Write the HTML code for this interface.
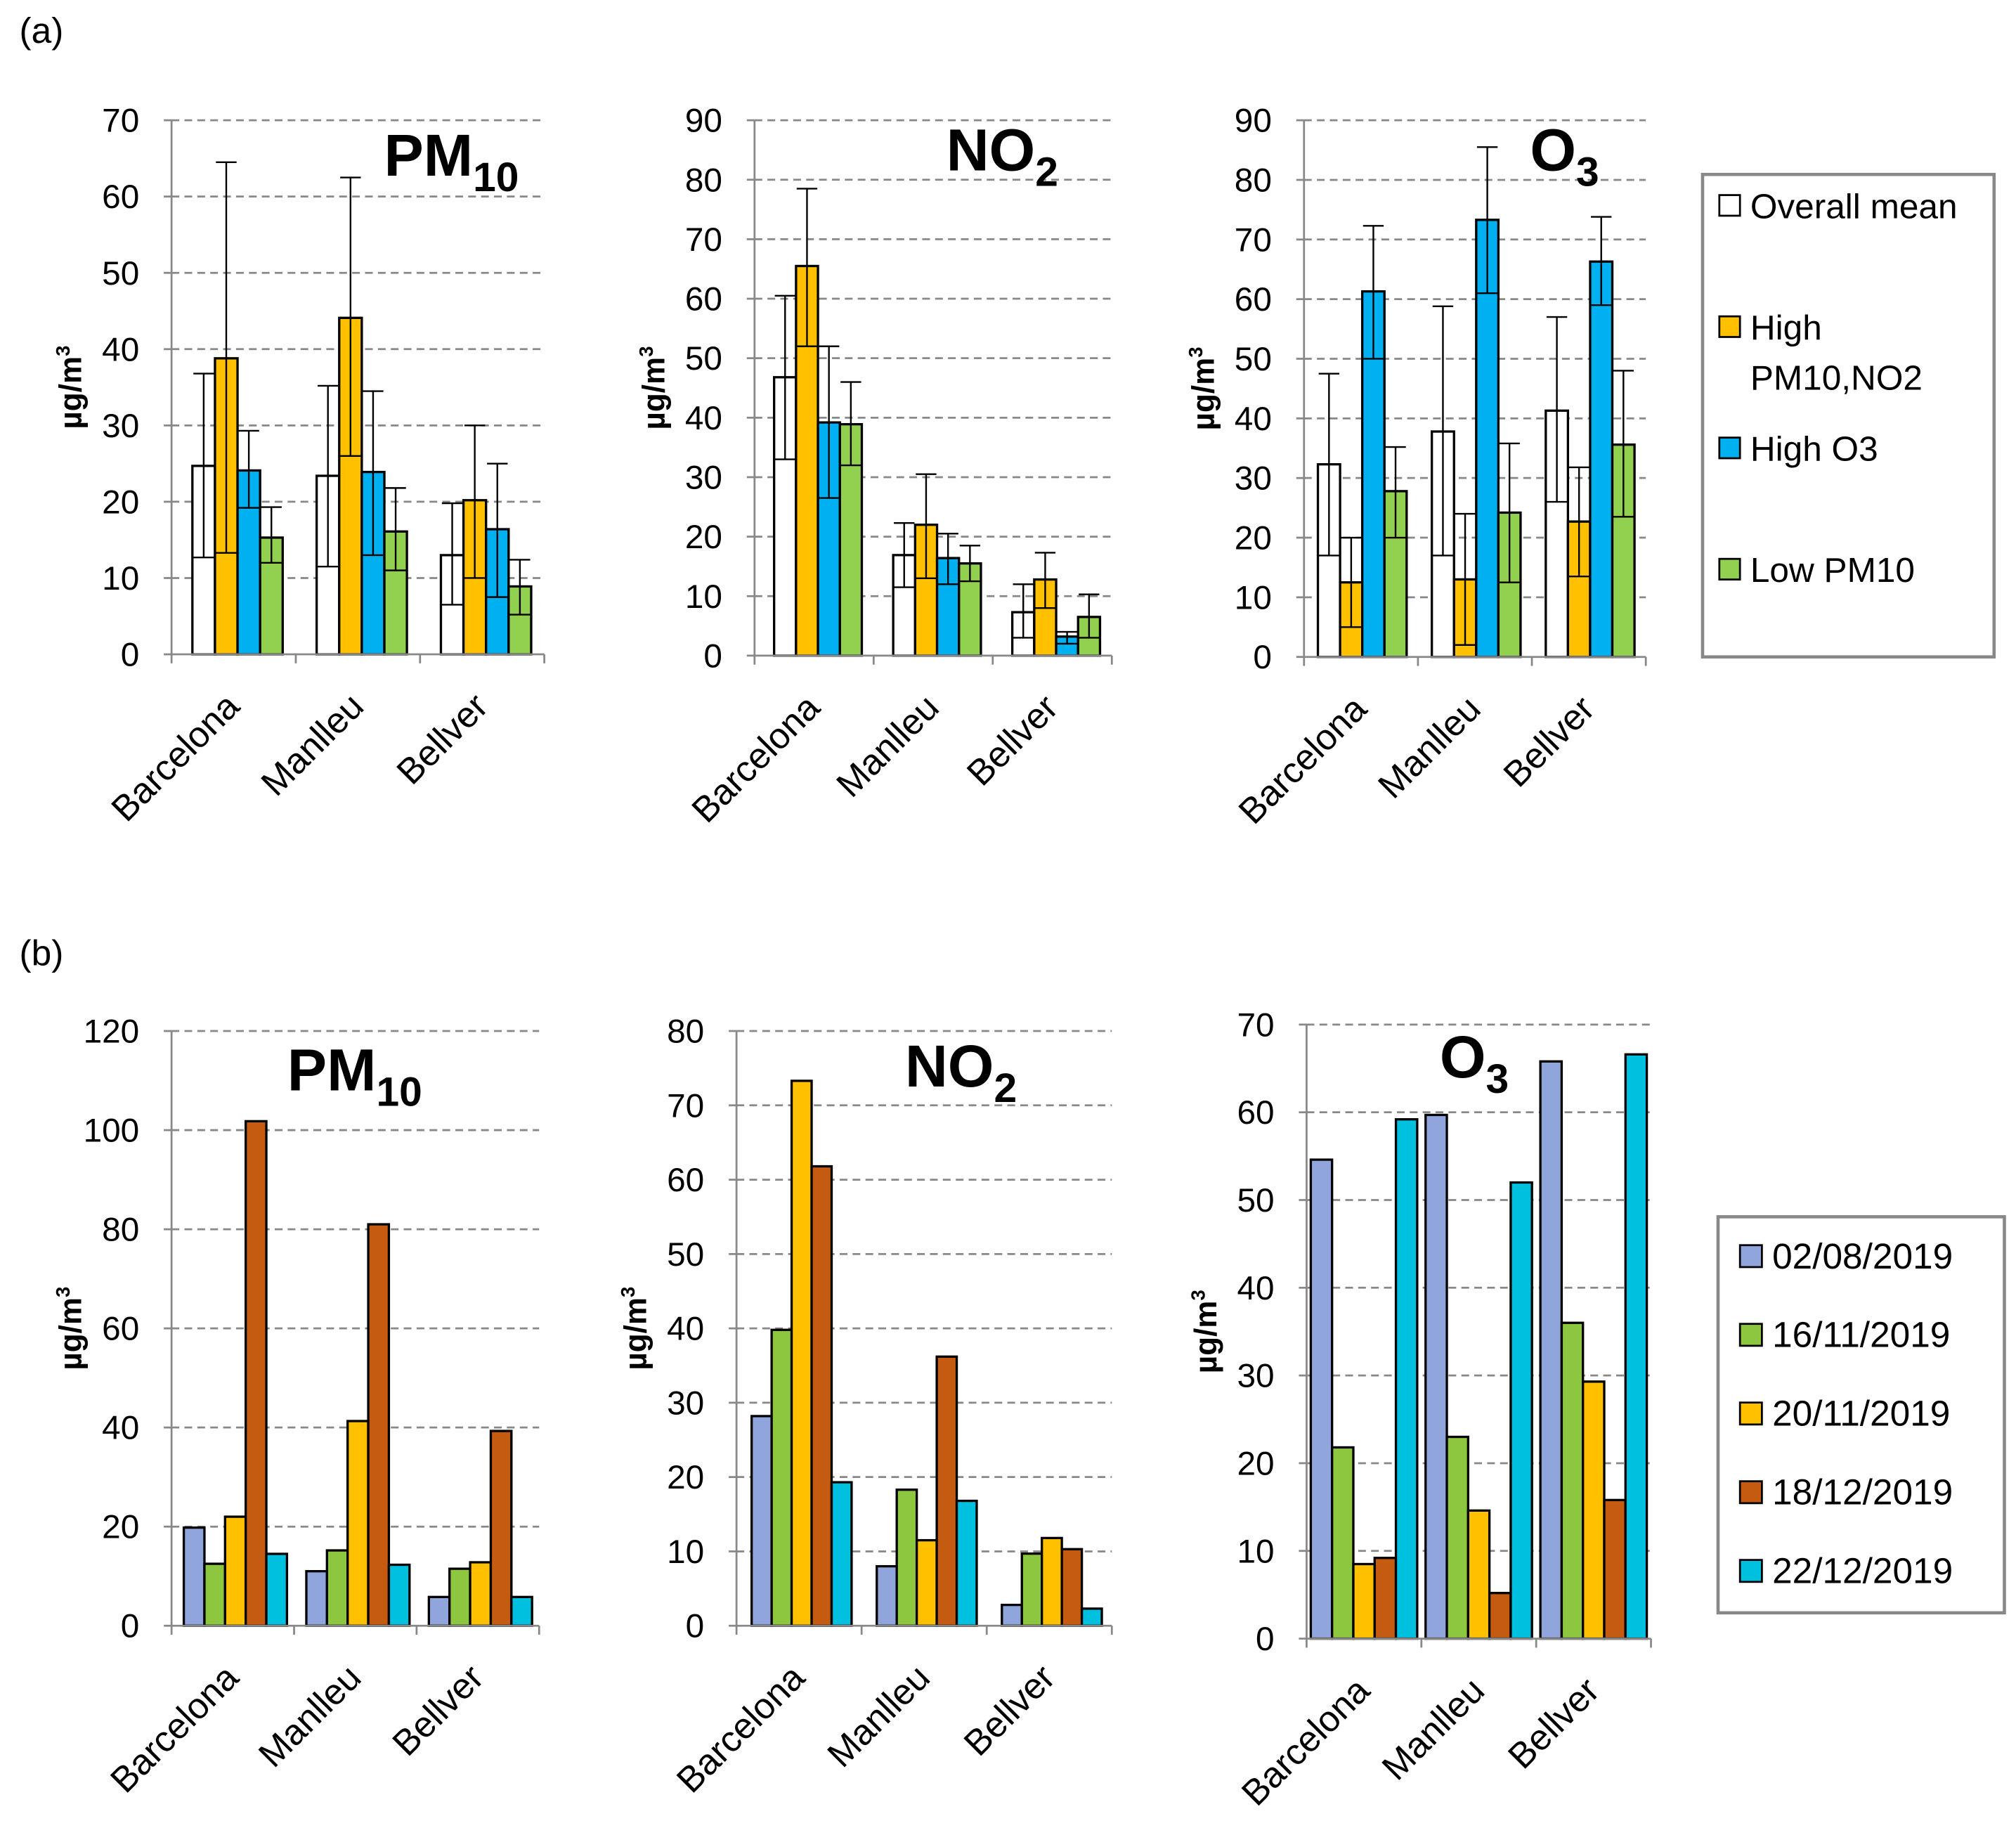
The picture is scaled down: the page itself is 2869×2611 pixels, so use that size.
<!DOCTYPE html>
<html><head><meta charset="utf-8"><style>
html,body{margin:0;padding:0;background:#fff}
svg{display:block}
text{font-family:"Liberation Sans","DejaVu Sans",sans-serif}
</style></head><body>
<svg id="c" width="2869" height="2611" viewBox="0 0 1563 1422" xmlns="http://www.w3.org/2000/svg">
<text x="15" y="33" font-size="28" font-family="Liberation Serif">(a)</text>
<text x="15" y="748" font-size="28" font-family="Liberation Serif">(b)</text>
<g id="charts"></g>
<g>
<rect x="1320" y="135" width="226" height="374" fill="#fff" stroke="#888" stroke-width="2.5"/>
<rect x="1333" y="151" width="16" height="16" fill="#fff" stroke="#000" stroke-width="1.5"/>
<text x="1357" y="169" font-size="27">Overall mean</text>
<rect x="1333" y="245" width="16" height="16" fill="#FFC000" stroke="#000" stroke-width="1.5"/>
<text x="1357" y="263" font-size="27">High</text>
<text x="1357" y="302" font-size="27">PM10,NO2</text>
<rect x="1333" y="339" width="16" height="16" fill="#00B0F0" stroke="#000" stroke-width="1.5"/>
<text x="1357" y="357" font-size="27">High O3</text>
<rect x="1333" y="433" width="16" height="16" fill="#92D050" stroke="#000" stroke-width="1.5"/>
<text x="1357" y="451" font-size="27">Low PM10</text>
</g>
<g>
<rect x="1332" y="943" width="222" height="307" fill="#fff" stroke="#888" stroke-width="2.5"/>
<g id="legb"></g>
</g>
</svg>
<script>
const NS="http://www.w3.org/2000/svg";
const cats=["Barcelona","Manlleu","Bellver"];
const colA=["#fff","#FFC000","#00B0F0","#92D050"];
const colB=["#8FA5DB","#8DC63F","#FFC000","#C55A11","#00C0E0"];
const datesB=["02/08/2019","16/11/2019","20/11/2019","18/12/2019","22/12/2019"];
// (a) values [category][series]
const pmA=[[24.7,38.8,24.1,15.3],[23.4,44.1,23.9,16.1],[13,20.2,16.4,8.9]];
const pmALo=[[12.7,13.3,19.2,12],[11.5,26,13,11],[6.5,10,7.5,5.2]];
const pmAHi=[[36.8,64.5,29.3,19.3],[35.2,62.5,34.5,21.8],[19.8,30,25,12.4]];
const noA=[[46.8,65.5,39.2,38.9],[16.9,22,16.4,15.5],[7.3,12.8,3.2,6.5]];
const noALo=[[33,52,26.5,32],[11.5,13,12,12.5],[3,8,2,3]];
const noAHi=[[60.5,78.5,52,46],[22.3,30.5,20.5,18.5],[12,17.3,4,10.3]];
const o3A=[[32.3,12.5,61.3,27.8],[37.8,13,73.3,24.2],[41.3,22.7,66.3,35.6]];
const o3ALo=[[17,5,50,20],[17,2,61,12.5],[26,13.5,59,23.5]];
const o3AHi=[[47.5,20,72.3,35.2],[58.8,24,85.5,35.8],[57,31.8,73.8,48]];
// (b)
const pmB=[[19.8,12.5,22,101.8,14.5],[11,15.2,41.3,81,12.3],[5.8,11.5,12.8,39.3,5.8]];
const noB=[[28.2,39.8,73.3,61.8,19.3],[8,18.3,11.5,36.2,16.8],[2.8,9.7,11.8,10.3,2.3]];
const o3B=[[54.6,21.8,8.5,9.2,59.2],[59.7,23,14.6,5.2,52],[65.8,36,29.3,15.8,66.6]];

const root=document.getElementById('charts');
function el(t,a,p){const e=document.createElementNS(NS,t);for(const k in a)e.setAttribute(k,a[k]);(p||root).appendChild(e);return e;}

function chart(o){
  const g=el('g',{});
  
  
  const sy=v=>o.y0-(v/o.max)*(o.y0-o.yTop);
  for(let v=0;v<=o.max;v+=o.step){
    const y=sy(v);
    if(v>0){const l=el('line',{x1:o.x0,x2:o.x1,y1:y,y2:y,stroke:'#888','stroke-width':1.5,'stroke-dasharray':'6,4'},g);
      }
    el('line',{x1:o.x0-6,x2:o.x0,y1:y,y2:y,stroke:'#888','stroke-width':1.5},g);
    const t=el('text',{x:o.x0-25,y:y+9,'font-size':26,'text-anchor':'end'},g);
    
    t.textContent=v;
  }
  el('line',{x1:o.x0,x2:o.x0,y1:o.yTop,y2:o.y0,stroke:'#888','stroke-width':1.5},g);
  const gw=(o.x1-o.x0)/3;
  o.vals.forEach((row,i)=>{
    const gx=o.x0+gw*i;
    const n=row.length, start=gx+(gw-n*o.bw)/2+o.off;
    row.forEach((v,j)=>{
      const x=start+j*o.bw;
      const r=el('rect',{x:x,y:sy(v),width:o.bw,height:o.y0-sy(v),fill:o.cols[j],stroke:'#000','stroke-width':1.8},g);
      
      
      if(o.lo){
        const cx=x+o.bw/2, ylo=sy(o.lo[i][j]), yhi=sy(o.hi[i][j]);
        const e=el('path',{d:`M${cx},${ylo}V${yhi}M${cx-8},${yhi}H${cx+8}M${cx-8},${ylo}H${cx+8}`,stroke:'#000','stroke-width':1.3,fill:'none'},g);
        
      }
    });
    const cx=gx+gw/2+6, ly=o.y0+42;
    const t=el('text',{x:cx,y:ly,'font-size':28,'text-anchor':'end',transform:`rotate(-45 ${cx} ${ly})`},g);
    
    t.textContent=cats[i];
  });
  el('line',{x1:o.x0,x2:o.x1,y1:o.y0,y2:o.y0,stroke:'#888','stroke-width':1.5},g);
  for(let k=0;k<=3;k++){const x=o.x0+gw*k;el('line',{x1:x,x2:x,y1:o.y0,y2:o.y0+7,stroke:'#888','stroke-width':1.5},g);}
  const yt=el('text',{x:0,y:0,'font-size':24,'font-weight':'bold','text-anchor':'middle',transform:`translate(${o.x0-70} ${(o.y0+o.yTop)/2}) rotate(-90)`},g);
  
  yt.innerHTML='µg/m<tspan font-size="15" dy="-9">3</tspan>';
  const tt=el('text',{x:o.tx,y:o.ty,'font-size':46,'font-weight':'bold','text-anchor':'middle'},g);
  
  tt.innerHTML=o.title[0]+'<tspan font-size="32" dy="12">'+o.title[1]+'</tspan>';
}
chart({name:'chart-a-pm10',x0:133,x1:422,y0:507,yTop:93,max:70,step:10,bw:17.5,off:3,cols:colA,vals:pmA,lo:pmALo,hi:pmAHi,title:['PM','10'],tx:350,ty:136});
chart({name:'chart-a-no2',x0:585,x1:862,y0:508,yTop:93,max:90,step:10,bw:17,off:3,cols:colA,vals:noA,lo:noALo,hi:noAHi,title:['NO','2'],tx:777,ty:132});
chart({name:'chart-a-o3',x0:1011,x1:1276,y0:509,yTop:93,max:90,step:10,bw:17.2,off:1,cols:colA,vals:o3A,lo:o3ALo,hi:o3AHi,title:['O','3'],tx:1213,ty:132});
chart({name:'chart-b-pm10',x0:133,x1:418,y0:1260,yTop:799,max:120,step:20,bw:16,off:2,cols:colB,vals:pmB,title:['PM','10'],tx:275,ty:845});
chart({name:'chart-b-no2',x0:571,x1:862,y0:1260,yTop:799,max:80,step:10,bw:15.5,off:2,cols:colB,vals:noB,title:['NO','2'],tx:745,ty:842});
chart({name:'chart-b-o3',x0:1013,x1:1280,y0:1270,yTop:794,max:70,step:10,bw:16.5,off:0,cols:colB,vals:o3B,title:['O','3'],tx:1143,ty:835});
const lb=document.getElementById('legb');
datesB.forEach((d,i)=>{
  const y=965+i*61;
  el('rect',{x:1349,y:y,width:17,height:17,fill:colB[i],stroke:'#000','stroke-width':1.5},lb);
  const t=el('text',{x:1374,y:y+18,'font-size':28},lb);
  
  t.textContent=d;
});
</script>
</body></html>
